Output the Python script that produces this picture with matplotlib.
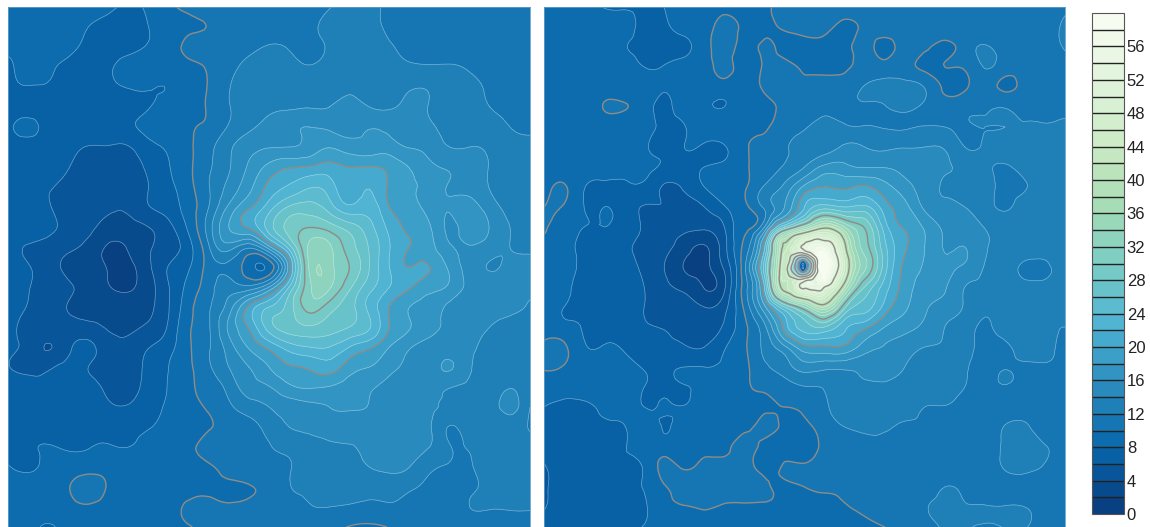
import numpy as np
import matplotlib
matplotlib.use('Agg')
import matplotlib.pyplot as plt
import matplotlib.tri as mtri

plt.rcParams['font.family'] = ['Liberation Sans', 'DejaVu Sans']

# left field, one row per line
left_rows = [
    [9,9,9,9,9,8.5,7.6,8.4,9.6,10.5,11,11,11,11,11,11,11.9,12.4,12.4,11.6,11,11,11,11,11,11,11],
    [9,9,9,8.9,8,7.4,7.2,8,9.2,9.7,10.1,11,11.2,11.2,11.3,11.6,12.5,12.8,12.7,11.6,11.2,11,11,11,11,11,11],
    [8.5,9,9,8.5,7.6,7.4,7.5,8.2,9.2,10.4,10.6,11,11.6,12.1,11.9,11.6,12.2,13,13,12.2,11.6,11.3,11.1,11,11,11,11],
    [7.6,8.6,8.3,7.6,7.4,7.8,8.6,9,9.2,9.6,10.2,11.4,12.4,12.6,12.5,12.1,12.7,13.2,13.1,12.7,12.3,12.2,12.2,11.8,11.5,11.2,11.1],
    [7.6,7.9,7.8,7.4,7.3,7.7,8.1,8.2,8.1,9.4,10.1,11.9,12.5,12.9,13,13,13.4,13.7,13.4,13.2,13.8,13.8,13,12.3,11.9,11.6,11.3],
    [7,7,7,7,6.8,7.3,7.4,7.9,9,9.6,10.2,11.9,12.6,13.4,13.7,13.9,14,14.5,14,13.8,14.4,13.9,13,12.5,12,11.7,11.5],
    [7.6,8.6,7.3,7,6.9,7,7.6,8.5,9,9.8,10.4,12.2,13.6,14.8,15.5,16,15.6,15.3,15.9,15.5,14.9,14.3,13.3,13,12.7,12,11.8],
    [7,7,7,6.8,5.9,5.9,5.9,7.4,8.2,9.6,11.4,13.6,15.2,15.9,16,16.7,17.9,17,16.8,16.9,15.9,15.3,14,14,13.6,12.6,12.3],
    [7,7,7,6.1,5,5,5.1,6.4,7.9,9.6,11.7,13.8,16.3,18.6,19.8,20.2,20.8,20,20.1,19.4,17.9,16.4,15.8,15,13.9,12.9,12.6],
    [7,6.3,6.2,5.3,4.8,4.3,4.6,6,7.4,9.4,11.9,14.6,17.4,20.6,22.3,23.8,23,20.9,21.9,19.6,18.3,17,15.9,15.5,13.9,13,12.8],
    [7,7,6.2,5,4.2,4.1,4.3,5.9,6.8,9,12,16.4,19.7,23,26.2,26.8,25,22.4,23,20,18.8,17,16.1,16.6,15,13.4,13],
    [7,7,6.4,5.5,4.4,3.4,3.3,4,5.4,8.4,13,18,20.4,25,28.7,29.9,29,27,24.7,21.4,19.7,18.2,15.7,17,15.9,14,13.4],
    [6.4,5.9,5.4,4.6,3.3,1.8,2.2,3.8,4.8,7.3,11.8,15,12.5,17.4,25,32.4,32.4,29,25.8,22.1,20,18.8,16.2,15.9,15,14,13.8],
    [7,6.1,5,3.4,2.6,1.9,1.6,3.6,6.1,7.8,10.8,11.6,8.8,8.6,19,32.2,32.8,30,26,22,20,20,17.5,15.2,13.9,14.3,14.3],
    [7,6.1,5.1,4.3,3.2,2.1,1.7,3.2,5.9,8.6,11.2,13,12.6,16,24,31.5,32.3,28.5,24.8,22,20.2,18.8,17.6,15.4,14.8,14.5,14.2],
    [7.2,5.9,5,3.9,3.3,3.2,3,3.6,5.9,9.3,11.8,15,20.4,24,27,30.8,29,26.8,23.4,20,18,17.1,15.5,15,14.7,14.3,13.9],
    [6.9,5.4,5.2,4.9,4.6,3.8,3.6,4.3,6.3,9.7,11.8,16.4,20.3,25,27,27.8,27,26,24.2,20,18.1,16.8,15.3,14.8,14,13.5,13.6],
    [6.5,5.3,3.9,5.6,6.4,4.9,4.6,5.9,7.3,9.7,11.8,15,18.2,20.6,23,24,24,22,20.4,18,16.2,15.2,15,14.3,13.4,13,13.1],
    [6.1,5.5,5.7,6.4,6,5,4.9,6.6,8,9.6,11.7,14,16,18,19.8,20.3,21,19,18,16.6,15.6,15.2,16.2,14.2,13.5,13.2,13],
    [7,6.8,6.5,6.7,6.6,5.5,5.1,6.8,8.1,9.6,10.8,12.7,15,15.9,17.6,18.2,17.9,17,16.3,15.3,14.9,14.6,14.1,13.6,13.4,13.9,12.9],
    [7.2,7,7.4,7.3,7,6.3,6.2,7.3,8.3,9.5,10.2,11.6,13,14,14.9,15.4,16,16.2,15.9,15,14.6,14.3,13.6,13.3,13.2,14.5,12],
    [7.6,7.4,7.4,7.3,7.3,7.2,7.4,7.9,8.7,9.5,9.9,10.6,11.4,12.7,14,14.4,15,14.9,14.7,14.8,14.6,14.2,11.9,13,13,13,11.8],
    [7.7,7.8,8.1,7.8,7.9,8.2,8,9,9.4,9.7,10.5,10.9,11.3,11.9,12.6,13.2,13.6,13.9,14.3,14.5,14.4,14,12.1,12.2,13,13,12.9],
    [8.1,7.7,8.5,9,9.3,9.4,9.5,9.5,9.5,9.7,9.8,10.7,11.2,11.7,11.9,13,13.2,13.4,14,14.4,14,12.4,11.9,11.9,12.7,13,12.9],
    [8.9,9,9.1,9.9,10.7,9.8,8.6,8.7,9.4,9.6,9.7,9.7,9.9,10.6,11.9,12.4,12.7,12.9,12.7,12.8,12.3,11.7,11.6,11.8,12.4,13,12.9],
    [9,9,9,9.5,9.8,9.4,8.7,8.6,9.4,10.2,10.3,10.2,10.4,10.7,11.3,11.9,12,11.8,11.6,11.8,11.6,11.4,11.3,12,12.1,12.2,12.2],
    [9,9,7.7,9,9,9,9,9,9.4,9.9,10.5,10.6,10.7,10.8,10.9,10.9,10.6,9.9,9.6,10.1,10.8,11,11,11,11,11,11],
]

# right field, same layout
right_rows = [
    [9,9,9,7.9,7.8,7.9,8,9,9,9,9.2,9.7,10.4,10.8,11,11,11,11,11,11,11,11,11,11,11,11,11.6],
    [9,9,9,9,8.6,7.5,7.6,8.6,9,10.8,9.5,9.6,10.2,10.8,10.6,9.6,10.4,10.9,11,10.9,11,11,11,11,11,11.2,12.4],
    [9,9,9,9,8.1,7.5,7.2,7.6,9.2,10.6,9.6,10.2,9.5,9.2,9.2,9.4,10.5,9.5,10.8,10.4,9.7,10.8,12.2,11,11,11.2,12.2],
    [9,9,9,9,8.7,8,8.1,8.7,9.3,10.4,9.4,10.2,10.5,9.7,9.4,9.7,10.6,10.8,10.9,9.6,10,10.2,12.1,11,11,11.1,11.2],
    [9,9,9,9,9,9,8.2,9,9.1,9.2,9.3,10.2,10.5,10.3,10.7,10.9,12.1,12.4,12.6,11.9,9.6,9.7,10.9,9.6,10.7,11,11.1],
    [9,9,9,10.1,10.1,9,7.6,8.9,8.6,8,9.2,9.6,10.4,11,11.4,11.7,11.8,11.9,12.4,11.6,11,11.5,11.8,11.9,11.3,11.1,11.3],
    [9,9,9,8.9,9,8.6,7.6,7.9,9.2,9.4,9.4,9.8,10.8,11.8,12.6,12.2,12.1,11.9,11.8,12.1,12,11.8,12,12,12.2,12.2,12.5],
    [9,9,9,9,9.4,8.3,7.6,8,7.7,7.8,9.7,10.3,11.6,12.9,13.1,14.3,14,13.6,13.9,14,13.8,12,12.3,12.8,12.7,12.6,12.6],
    [9,9,9,8.9,8.7,8.5,7.7,7.4,8,8.6,9.7,10.9,12.2,14,16.5,16.5,15.9,15.9,15.2,14.7,14.2,13.5,12.5,11.8,12.6,12.7,12.6],
    [9,10.2,8.1,7.7,7.7,7.5,5.8,6.3,8,9.2,9.8,12.2,14.5,18.5,20,19.7,20.3,18.7,16.9,14.9,13.9,13.6,12.6,11.6,11.9,12.6,12.6],
    [10,9.8,8,8,7.2,5.9,5.9,5.1,6,7.8,9.6,12.4,16,22,25,24,24.5,21,18.6,15.6,14.4,14,12.8,11.8,12.7,12.7,12.6],
    [10.2,9,8,8,7.3,5.7,4.6,4.3,4.4,6,9.3,14,26,33,39,34,29.8,23,19.8,17.7,15.7,15.2,13.9,13,12.7,12.5,12.5],
    [9.6,9,7.5,7.7,6.6,5.4,4.4,3,1.8,5.3,10.6,21.5,42,48,54,41,31,24.6,20.3,18,15.9,16,14.3,13.2,13.2,12.7,12.6],
    [9,9,7.5,7.4,6.8,5.6,4,1.9,1.6,4.4,11.5,25,43,8,58,44,32.5,25,19.5,17.8,16.4,15.7,13.9,13,11.6,11.7,12.4],
    [9,8.7,7,7,6.6,6,4.5,3.4,1.9,3.7,11,22,42,52,53,38,28,23,19.1,17.2,16.2,14,13.5,12.8,12.6,12.4,12.4],
    [9,8,7.4,7,6.8,6,5,5,4,5.3,10.4,17.5,26,32,38,28.5,25,21.3,18.4,16.3,15.2,13.8,12.5,12.6,12.8,12.4,12.3],
    [9,8.6,7.9,7.6,7.2,6.2,5.9,5.5,5.5,6.3,9.5,13.5,20.8,25,26,22.5,20.6,18,16.7,15.5,14,12.8,11.8,12.6,12.7,12.2,12],
    [10.4,10.3,8.2,8.1,7.8,7,6.6,6.2,6,7.8,9.7,12.5,15.6,19.4,19.7,19.6,17,15.9,15,14,13.7,12.6,11.6,11.7,12.6,12.4,11.6],
    [10.2,9.9,9,9,8.6,7.9,7.7,8,8,8.3,9.5,11.6,13,15,14.6,14.5,14.7,15.4,14,13.2,12.6,12.1,11.7,11.9,11.8,11.8,11.5],
    [9,9,9,9,9,8,7.8,7.9,8.4,9,9.8,10.3,11,11.9,12.1,13,13.6,13.4,13.1,12.9,12.6,12,11.6,11.9,11.4,11,11.1],
    [8,7.5,7.6,8.5,9,8,8.1,8.1,9,9.2,9.4,9.8,10,10.4,11.8,12.2,12.4,12.5,12.6,12,11.9,11.3,11,11,11,11,11],
    [7.6,7.6,7.6,7.7,7.9,9,7.9,9,9,9.1,9.6,10.3,9.7,9.5,11,12,12.2,12.3,11.7,11.6,11,11,10.9,12.1,12.3,11.2,11],
    [7.5,7.5,7.5,7.6,7.9,8.9,9,9,9.2,9.5,10.6,9.6,9.5,9.2,10.4,11,11.4,11,11,11,11,11,11,12.3,12.6,12.1,11],
    [5.7,7.4,7.5,7.5,7.7,8.2,10.5,9.8,10.6,10.6,10.4,9.7,10.1,10.2,10.5,10.6,11,10.9,11,11,11,11,11,12.2,12.6,11.8,11],
    [5.6,7.3,7.5,7.6,7.8,8.1,9.8,10.7,10.5,10.7,10.8,10.2,9.9,10,10.2,10.3,10.8,11,11,11,12,11.6,11,11,11,11,11],
    [5.8,7.3,7.4,7.4,7.5,7.8,9.3,9.9,10.1,9.8,9.7,9.8,9.9,9.7,9.6,9.9,10.4,11,10.9,11.8,12.4,12.1,12.1,12.1,12,11,11],
    [7.6,7.6,7.6,7.6,7.6,8.1,9,9,9,9,9,9,9,9,9,9,9.4,10,10.6,11,12.3,12.2,11.8,12.1,12.1,11,11],
]

# finer samples around the hole in the right field
hole_rows = [
    [38,39.5,41.5,44,46.5,49,50,51.5,51,50.2,49.5],
    [38.5,41,43,46,49.5,52,54,55,55,54,52],
    [39,42,44,46,45,50,53,56,58,57,54],
    [39.5,43,40.5,33,26,28,40,52,59,59,55],
    [40,43,38,22,9.5,9.5,22,42,58,59.5,57],
    [40.5,43,33,18,7,7,17,42,59,60,57],
    [41,43,33,22,9.5,9.5,22,42,57,59,56],
    [41,43,39,33,26,28,37,50.5,57,58,54],
    [41,42,43,44,45,50.3,52,53,56,56,52],
    [40,41.5,43,45,51,52,53,53.5,53,50.5,48.5],
    [38,40.5,42,44,47,48,49,49.5,49.8,47,45],
]

colorbar_ticks = [0, 4, 8, 12, 16, 20, 24, 28, 32, 36, 40, 44, 48, 52, 56]
levels = np.arange(0, 62, 2)
grey_levels = [10, 20, 30, 40, 50]
light_levels = [v for v in levels if v not in grey_levels and v not in (0, 60)]
cmap = plt.get_cmap('GnBu_r', 30)

W, H = 1150, 527
fig = plt.figure(figsize=(W / 100, H / 100), dpi=100)


def px_axes(x0, y0, x1, y1):
    return fig.add_axes([x0 / W, 1 - y1 / H, (x1 - x0) / W, (y1 - y0) / H])


def draw_field(ax, tri, z):
    # let the library round off the contours between the samples
    fine_tri, fine_z = mtri.UniformTriRefiner(tri).refine_field(z, subdiv=3)
    fine_z = np.clip(fine_z, 0.1, 59.9)
    cs = ax.tricontourf(fine_tri, fine_z, levels=levels, cmap=cmap, vmin=0, vmax=60)
    ax.tricontour(fine_tri, fine_z, levels=light_levels, colors='white', linewidths=0.5, alpha=0.4)
    ax.tricontour(fine_tri, fine_z, levels=grey_levels, colors='#8f8b86', linewidths=1.0)
    ax.set_xlim(0, 26)
    ax.set_ylim(26, 0)
    ax.set_xticks([])
    ax.set_yticks([])
    for s in ax.spines.values():
        s.set_color('#5f9fc9')
        s.set_linewidth(0.6)
    return cs


gx, gy = np.meshgrid(np.arange(27), np.arange(27))

# left panel
left = np.array(left_rows, dtype=float)
ax1 = px_axes(8, 7, 530, 527)
draw_field(ax1, mtri.Triangulation(gx.ravel(), gy.ravel()), left.ravel())

# right panel, coarse samples plus the finer block around the hole
right = np.array(right_rows, dtype=float)
hole = np.array(hole_rows, dtype=float)
hx, hy = np.meshgrid(11.8 + 0.25 * np.arange(11), 11.7 + 0.25 * np.arange(11))
keep = ~((gx >= hx.min()) & (gx <= hx.max()) & (gy >= hy.min()) & (gy <= hy.max()))
rx = np.concatenate([gx[keep], hx.ravel()])
ry = np.concatenate([gy[keep], hy.ravel()])
rz = np.concatenate([right[keep], hole.ravel()])
ax2 = px_axes(544, 7, 1065, 527)
cs = draw_field(ax2, mtri.Triangulation(rx, ry), rz)

# colour bar
cax = px_axes(1092, 13, 1124, 514)
cb = fig.colorbar(cs, cax=cax, ticks=colorbar_ticks, drawedges=True)
cb.dividers.set_color('#222222')
cb.dividers.set_linewidth(1.0)
cb.outline.set_edgecolor('#555555')
cb.outline.set_linewidth(0.8)
cax.tick_params(length=0, pad=2, labelsize=12, labelcolor='#222222')

fig.savefig('out.png', dpi=100)
